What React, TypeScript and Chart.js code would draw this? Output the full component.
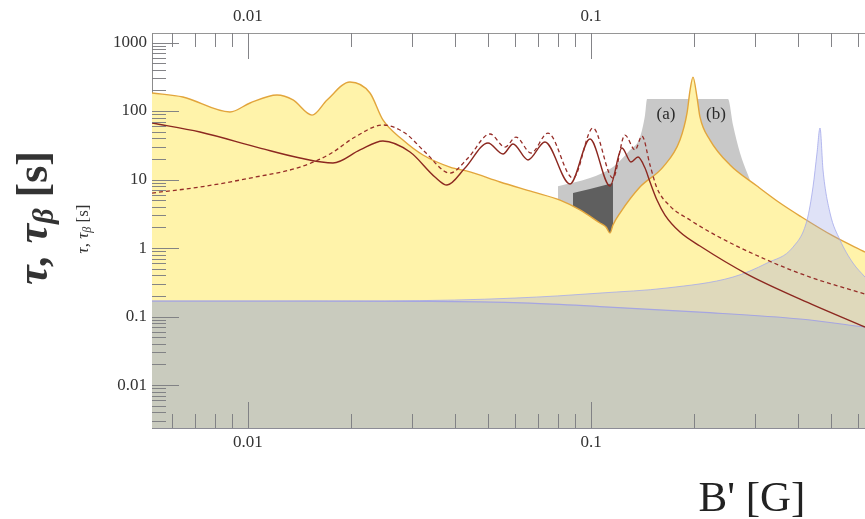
import React, { useEffect, useRef } from "react";
import { Chart, registerables } from "chart.js";
Chart.register(...registerables);

// Axis ranges (B' in G, tau in s)
const X_MIN = 0.00525;
const X_MAX = 0.6292;
const Y_MIN = 0.00236;
const Y_MAX = 1377;
const yTickValues = [0.01, 0.1, 1, 10, 100, 1000];
const xTickValues = [0.01, 0.1];

// Yellow region (upper orange boundary)
const yellowB = [0.00525, 0.00646, 0.00886, 0.01014, 0.01215, 0.01353, 0.01537, 0.017, 0.01983, 0.02268, 0.02474, 0.0283, 0.03237, 0.0388, 0.04438, 0.05429, 0.06776, 0.08122, 0.09289, 0.1062, 0.1106, 0.1136, 0.1159, 0.1215, 0.1389, 0.1621, 0.1817, 0.1905, 0.1944, 0.1983, 0.2037, 0.2078, 0.2223, 0.2543, 0.3048, 0.3556, 0.4068, 0.5077, 0.6292];
const yellowTau = [183, 160, 97, 131, 171, 145, 87, 145, 265, 183, 74, 37.7, 22.8, 15.2, 12.9, 9.2, 6.6, 5.0, 3.6, 2.32, 2.03, 1.66, 2.17, 3.24, 7.77, 15.2, 37.7, 93, 200, 313, 160, 82, 37.7, 16.3, 8.04, 4.54, 2.93, 1.5, 0.874];

// Light gray region (a)/(b)
const lightGrayB = [0.0801, 0.0993, 0.1159, 0.1299, 0.1389, 0.1437, 0.1457, 0.2508, 0.2594, 0.2719, 0.2869, 0.3007];
const lightGrayTau = [8.0, 10.5, 15.2, 26.9, 41.5, 87, 150, 150, 62.5, 24.4, 11.6, 6.57];

// Dark gray region
const darkGrayB = [0.08862, 0.0993, 0.1159];
const darkGrayTau = [6.35, 7.27, 8.89];

// Blue (lavender) resonance region
const spikeB = [0.00525, 0.012, 0.025, 0.04, 0.06, 0.08, 0.1062, 0.1666, 0.2594, 0.326, 0.388, 0.4264, 0.4438, 0.4559, 0.4652, 0.4747, 0.4976, 0.532, 0.5805, 0.6292];
const spikeTau = [0.168, 0.168, 0.169, 0.174, 0.186, 0.2, 0.22, 0.261, 0.377, 0.604, 1.03, 2.56, 7.77, 24.4, 56.5, 13.8, 3.24, 1.31, 0.604, 0.377];

// Bottom gray region
const bottomB = [0.00525, 0.01418, 0.0339, 0.0664, 0.1062, 0.2078, 0.4068, 0.6292];
const bottomTau = [0.168, 0.168, 0.167, 0.157, 0.14, 0.116, 0.092, 0.0703];

// Solid curve
const solidB = [0.00525, 0.007245, 0.01084, 0.01418, 0.01769, 0.02121, 0.02474, 0.02967, 0.03508, 0.03803, 0.04292, 0.05008, 0.05539, 0.05924, 0.06552, 0.0734, 0.08686, 0.09933, 0.1136, 0.1231, 0.1308, 0.1371, 0.1437, 0.1486, 0.1557, 0.1643, 0.1817, 0.2078, 0.285, 0.4068, 0.6292];
const solidTau = [66.8, 49.4, 28.8, 20.6, 17.4, 27.0, 36.5, 25.2, 10.9, 8.3, 14.7, 34.1, 23.6, 33.0, 19.3, 35.3, 8.6, 39.0, 8.04, 28.8, 18.0, 21.3, 14.7, 9.19, 5.02, 3.03, 1.71, 1.07, 0.417, 0.18, 0.0703];

// Dashed curve
const dashB = [0.00525, 0.007245, 0.01014, 0.01418, 0.01734, 0.02051, 0.02474, 0.02869, 0.03281, 0.0388, 0.04379, 0.05077, 0.05614, 0.06044, 0.06685, 0.0749, 0.08862, 0.1013, 0.1159, 0.1256, 0.1344, 0.1408, 0.1486, 0.1557, 0.1699, 0.1944, 0.233, 0.326, 0.435, 0.6292];
const dashTau = [6.35, 7.77, 10.5, 15.2, 23.6, 41.7, 62.5, 47.7, 25.2, 12.4, 20.6, 46.2, 29.8, 41.7, 24.4, 47.7, 10.5, 56.5, 10.5, 44.6, 27.0, 43.2, 16.3, 7.51, 4.1, 2.56, 1.5, 0.668, 0.377, 0.213];

// Region annotations
const regionLabels = ["(a)", "(b)"];
const regionLabelB = [0.1654, 0.2314];
const regionLabelTau = [87.4, 87.4];

const SERIF = '"Liberation Serif", "DejaVu Serif", serif';

const zip = (xs: number[], ys: number[]) => xs.map((x, i) => ({ x, y: ys[i] }));

function drawRotTitle(ctx: CanvasRenderingContext2D, cx: number, cy: number, size: number, bold: boolean, color: string) {
  const w = bold ? "bold " : "";
  const parts = [
    { t: "τ, τ", f: `${w}italic ${size}px ${SERIF}`, dy: 0 },
    { t: "β", f: `${w}italic ${Math.round(size * 0.68)}px ${SERIF}`, dy: size * 0.22 },
    { t: " [s]", f: `${w}${size}px ${SERIF}`, dy: 0 },
  ];
  ctx.save();
  let total = 0;
  const widths = parts.map((p) => {
    ctx.font = p.f;
    const mw = ctx.measureText(p.t).width;
    total += mw;
    return mw;
  });
  ctx.translate(cx, cy);
  ctx.rotate(-Math.PI / 2);
  ctx.fillStyle = color;
  ctx.textBaseline = "middle";
  ctx.textAlign = "left";
  let x = -total / 2;
  parts.forEach((p, i) => {
    ctx.font = p.f;
    ctx.fillText(p.t, x, p.dy);
    x += widths[i];
  });
  ctx.restore();
}

const decorPlugin = {
  id: "decor",
  afterDatasetsDraw(chart: any) {
    const ctx = chart.ctx as CanvasRenderingContext2D;
    const { left, top, bottom } = chart.chartArea;
    const xs = chart.scales.x;
    const ys = chart.scales.y;
    ctx.save();
    ctx.strokeStyle = "rgba(125,125,130,0.95)";
    ctx.lineWidth = 1;
    ctx.beginPath();
    for (let e = -4; e <= 4; e++) {
      for (let m = 1; m <= 9; m++) {
        const v = m * Math.pow(10, e);
        if (v >= X_MIN && v <= X_MAX) {
          const px = Math.round(xs.getPixelForValue(v)) + 0.5;
          const len = m === 1 ? 26 : 14;
          ctx.moveTo(px, top);
          ctx.lineTo(px, top + len);
          ctx.moveTo(px, bottom);
          ctx.lineTo(px, bottom - len);
        }
        if (v >= Y_MIN && v <= Y_MAX) {
          const py = Math.round(ys.getPixelForValue(v)) + 0.5;
          const len = m === 1 ? 27 : 14;
          ctx.moveTo(left, py);
          ctx.lineTo(left + len, py);
        }
      }
    }
    ctx.stroke();
    // region labels
    ctx.fillStyle = "#2a2a2a";
    ctx.font = `17px ${SERIF}`;
    ctx.textAlign = "center";
    ctx.textBaseline = "middle";
    regionLabels.forEach((t, i) => {
      ctx.fillText(t, xs.getPixelForValue(regionLabelB[i]), ys.getPixelForValue(regionLabelTau[i]));
    });
    ctx.restore();
  },
  afterDraw(chart: any) {
    const ctx = chart.ctx as CanvasRenderingContext2D;
    drawRotTitle(ctx, 36, 218, 44, true, "#333");
    drawRotTitle(ctx, 84, 229, 17, false, "#333");
    ctx.save();
    ctx.fillStyle = "#222";
    ctx.font = `43px ${SERIF}`;
    ctx.textAlign = "center";
    ctx.textBaseline = "alphabetic";
    ctx.fillText("B' [G]", 752, 511);
    ctx.restore();
  },
};

export default function App() {
  const ref = useRef<HTMLCanvasElement | null>(null);
  useEffect(() => {
    if (!ref.current) return;
    const base = { pointRadius: 0, pointHoverRadius: 0, cubicInterpolationMode: "monotone" as const };
    const tickFont = { family: SERIF, size: 17 };
    const chart = new Chart(ref.current, {
      type: "line",
      data: {
        datasets: [
          { ...base, label: "dashed", data: zip(dashB, dashTau), borderColor: "rgb(150,45,40)", borderWidth: 1.3, borderDash: [4, 3], fill: false, order: 1 },
          { ...base, label: "solid", data: zip(solidB, solidTau), borderColor: "rgb(140,40,32)", borderWidth: 1.4, fill: false, order: 2 },
          { ...base, label: "bottom", data: zip(bottomB, bottomTau), borderColor: "rgb(165,165,225)", borderWidth: 1.2, backgroundColor: "rgb(201,203,190)", fill: "start", order: 6 },
          { ...base, label: "spike", data: zip(spikeB, spikeTau), borderColor: "rgba(165,170,235,0.8)", borderWidth: 1, backgroundColor: "rgba(150,160,230,0.3)", fill: "start", order: 7 },
          { ...base, label: "yellow", data: zip(yellowB, yellowTau), borderColor: "rgb(226,165,60)", borderWidth: 1.4, backgroundColor: "rgb(255,243,170)", fill: "start", order: 8 },
          { ...base, label: "dark", data: zip(darkGrayB, darkGrayTau), borderWidth: 0, borderColor: "rgba(0,0,0,0)", backgroundColor: "rgb(95,95,95)", fill: "start", order: 9 },
          { ...base, label: "light", data: zip(lightGrayB, lightGrayTau), borderWidth: 0, borderColor: "rgba(0,0,0,0)", backgroundColor: "rgb(200,200,200)", fill: "start", order: 10 },
        ],
      },
      options: {
        animation: false,
        responsive: false,
        devicePixelRatio: 1,
        layout: { padding: 0 },
        plugins: { legend: { display: false }, tooltip: { enabled: false } },
        scales: {
          x: {
            type: "logarithmic",
            position: "bottom",
            min: X_MIN,
            max: X_MAX,
            grid: { display: false, drawTicks: false },
            border: { display: true, color: "rgb(140,140,150)", width: 1 },
            afterBuildTicks: (s: any) => { s.ticks = xTickValues.map((v) => ({ value: v })); },
            afterFit: (s: any) => { s.height = 91; },
            ticks: { font: tickFont, color: "#333", padding: 4, maxRotation: 0, autoSkip: false, callback: (v: any) => String(v) },
          },
          x2: {
            type: "logarithmic",
            position: "top",
            min: X_MIN,
            max: X_MAX,
            grid: { display: false, drawTicks: false },
            border: { display: true, color: "rgb(150,150,150)", width: 1 },
            afterBuildTicks: (s: any) => { s.ticks = xTickValues.map((v) => ({ value: v })); },
            afterFit: (s: any) => { s.height = 33; },
            ticks: { font: tickFont, color: "#333", padding: 6, maxRotation: 0, autoSkip: false, callback: (v: any) => String(v) },
          },
          y: {
            type: "logarithmic",
            position: "left",
            min: Y_MIN,
            max: Y_MAX,
            grid: { display: false, drawTicks: false },
            border: { display: true, color: "rgb(140,140,140)", width: 1 },
            afterBuildTicks: (s: any) => { s.ticks = yTickValues.map((v) => ({ value: v })); },
            afterFit: (s: any) => { s.width = 152; },
            ticks: { font: tickFont, color: "#333", padding: 5, autoSkip: false, callback: (v: any) => String(v) },
          },
        },
      },
      plugins: [decorPlugin],
    });
    return () => chart.destroy();
  }, []);
  return (
    <canvas
      ref={ref}
      width={865}
      height={519}
      style={{ position: "fixed", left: 0, top: 0, width: 865, height: 519, background: "#fff" }}
    />
  );
}
